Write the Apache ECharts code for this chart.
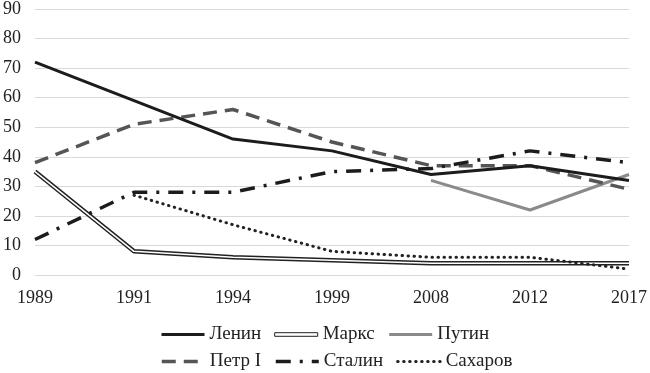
<!DOCTYPE html>
<html><head><meta charset="utf-8">
<script src="https://cdn.jsdelivr.net/npm/echarts@6/dist/echarts.min.js"></script>
<style>html,body{margin:0;padding:0;background:#fff}#c{width:650px;height:373px}</style>
</head><body><div id="c"></div>
<script>
const years = ['1989','1991','1994','1999','2008','2012','2017'];
const lenin = [72, 59, 46, 42, 34, 37, 32];
const marx = [35, 8, 6, 5, 4, 4, 4];
const putin = [null, null, null, null, 32, 22, 34];
const petr = [38, 51, 56, 45, 37, 37, 29];
const stalin = [12, 28, 28, 35, 36, 42, 38];
const sakharov = [null, 27, 17, 8, 6, 6, 2];
const yTicks = [0, 10, 20, 30, 40, 50, 60, 70, 80, 90];

const font = "'Liberation Serif', 'DejaVu Serif', serif";
const chart = echarts.init(document.getElementById('c'), null, {renderer:'canvas'});
const legendCommon = {
  left: 160, padding: 0, itemWidth: 43, itemHeight: 14, itemGap: 13,
  itemStyle: {opacity: 0},
  textStyle: {fontFamily: font, fontSize: 19, color: '#222', width: 52},
  inactiveColor: '#ccc'
};
chart.setOption({
  animation: false,
  textStyle: {fontFamily: font},
  grid: {left: 33, right: 18, top: 9, bottom: 98},
  legend: [
    Object.assign({}, legendCommon, {top: 325, data: [
      {name: 'Ленин', lineStyle: {width: 3}},
      {name: 'Маркс', icon: 'path://M0,0L0,0M43,14L43,14M0,5.2H43V8.8H0Z', itemStyle: {opacity: 1, color: '#fff', borderColor: '#222', borderWidth: 1}},
      {name: 'Путин', lineStyle: {width: 3}}]}),
    Object.assign({}, legendCommon, {top: 352, data: [
      {name: 'Петр I', lineStyle: {width: 3.5}},
      {name: 'Сталин', lineStyle: {width: 3.5}},
      {name: 'Сахаров', lineStyle: {width: 3}}]})
  ],
  xAxis: {
    type: 'category', data: years, boundaryGap: false,
    axisLine: {show: false}, axisTick: {show: false},
    axisLabel: {fontFamily: font, fontSize: 18, color: '#222', margin: 14}
  },
  yAxis: {
    type: 'value', min: 0, max: 90, interval: 10,
    axisLine: {show: false}, axisTick: {show: false},
    splitLine: {lineStyle: {color: '#d9d9d9', width: 1}},
    axisLabel: {fontFamily: font, fontSize: 18, color: '#222', margin: 14,
      formatter: v => yTicks.includes(v) ? String(v) : ''}
  },
  series: [
    {name: 'Ленин', type: 'line', data: lenin, symbol: 'none', z: 5,
      lineStyle: {color: '#1c1c1c', width: 3}, itemStyle: {color: '#1c1c1c'}},
    {name: 'Маркс', type: 'line', data: marx, symbol: 'none', z: 3,
      lineStyle: {color: '#222', width: 4.5}, itemStyle: {color: '#222'}},
    {name: 'Маркс ', type: 'line', data: marx, symbol: 'none', z: 4,
      lineStyle: {color: '#fff', width: 1.5}, itemStyle: {color: '#fff'}},
    {name: 'Путин', type: 'line', data: putin, symbol: 'none', z: 2,
      lineStyle: {color: '#8a8a8a', width: 3}, itemStyle: {color: '#8a8a8a'}},
    {name: 'Петр I', type: 'line', data: petr, symbol: 'none', z: 4,
      lineStyle: {color: '#555', width: 3.5, type: [14, 8]}, itemStyle: {color: '#555'}},
    {name: 'Сталин', type: 'line', data: stalin, symbol: 'none', z: 4,
      lineStyle: {color: '#1c1c1c', width: 3.5, type: [15, 9, 3, 9]}, itemStyle: {color: '#1c1c1c'}},
    {name: 'Сахаров', type: 'line', data: sakharov, symbol: 'none', z: 4,
      lineStyle: {color: '#222', width: 3, type: [0.5, 5.5], cap: 'round'}, itemStyle: {color: '#222'}}
  ]
});
</script></body></html>
